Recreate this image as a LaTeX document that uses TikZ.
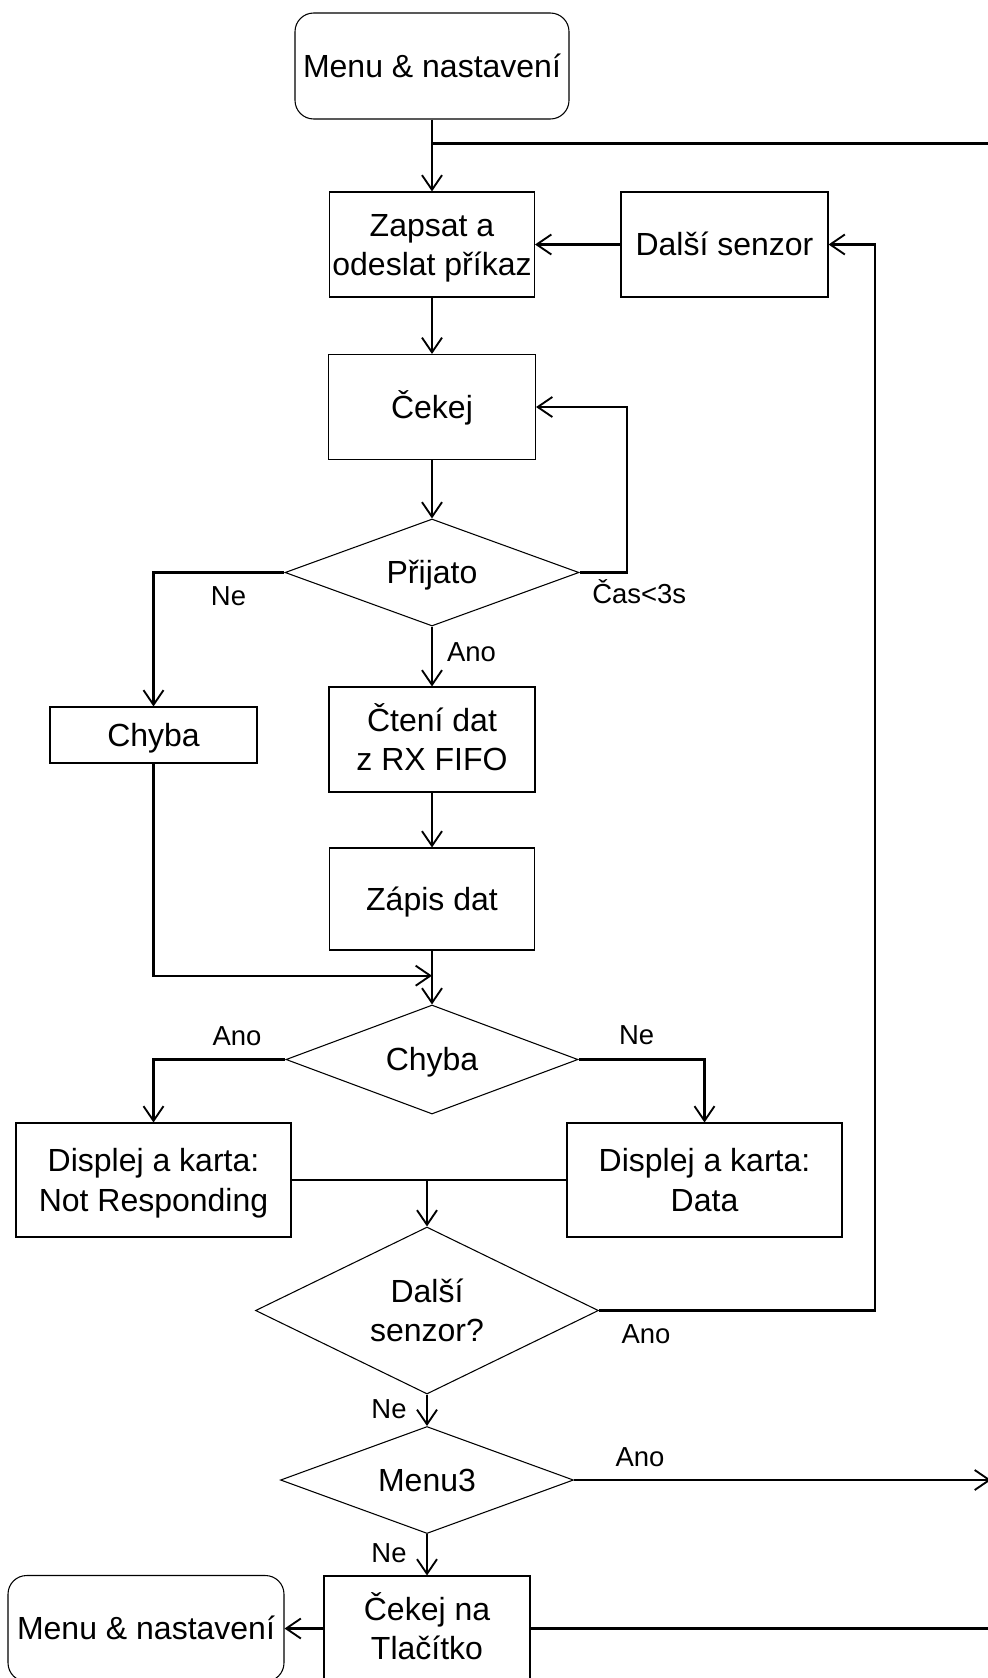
\documentclass[tikz,border=0pt]{standalone}
\usepackage{fontspec}
\setmainfont{Liberation Sans}
\usetikzlibrary{arrows.meta,shapes.geometric}

\newcommand\mainfnt{\fontsize{24}{29.5}\selectfont}
\newcommand\lblfnt{\fontsize{20.6}{24}\selectfont}
% one text line with a fixed ascent/descent, so capitals sit on the node centre
\newcommand\capstrut{\rule[-4.8pt]{0pt}{26.8pt}}
\newcommand\txl[1]{\smash{#1}\capstrut}

\tikzset{
  sz/.style 2 args={minimum width=#1*0.75pt, minimum height=#2*0.75pt},
  box/.style={draw, line width=0.8pt, rectangle, inner sep=0pt, align=center, font=\mainfnt},
  rbox/.style={box, rounded corners=14pt},
  dia/.style={draw, line width=0.8pt, diamond, aspect=2.5, inner sep=0pt, align=center, font=\mainfnt},
  link/.style={line width=1.6pt},
  arr/.style={link, -{Straight Barb[length=11pt,width=15pt,line width=1.4pt]}},
  lbl/.style={font=\lblfnt, inner sep=0pt}
}

\begin{document}
\begin{tikzpicture}[x=0.75pt,y=-0.75pt]
\useasboundingbox (0,0) rectangle (988,1678);
\fill[white] (0,0) rectangle (988,1678);
\clip (0,0) rectangle (988,1678);

% process blocks
\node[rbox, sz={274}{106}] (start) at (432,66) {\txl{Menu \& nastavení}};
\node[box, sz={205}{105}] (write) at (432,244.5) {\txl{Zapsat a}\\\txl{odeslat příkaz}};
\node[box, sz={207}{105}] (next) at (724.5,244.5) {\txl{Další senzor}};
\node[box, sz={207}{105}] (wait) at (432,407) {\txl{Čekej}};
\node[dia, sz={294}{107}] (recv) at (432,572.5) {\txl{Přijato}};
\node[box, sz={207}{56}] (err) at (153.5,735) {\txl{Chyba}};
\node[box, sz={206}{105}] (read) at (432,739.5) {\txl{Čtení dat}\\\txl{z RX FIFO}};
\node[box, sz={205}{102}] (store) at (432,899) {\txl{Zápis dat}};
\node[dia, sz={292}{109}] (iserr) at (432,1059.5) {\txl{Chyba}};
\node[box, sz={275}{114}] (nresp) at (153.5,1180) {\txl{Displej a karta:}\\\txl{Not Responding}};
\node[box, sz={275}{114}] (data) at (704.5,1180) {\txl{Displej a karta:}\\\txl{Data}};
\node[dia, sz={343}{167}] (more) at (427,1310.5) {\txl{Další}\\\txl{senzor?}};
\node[dia, sz={293}{107}] (menu3) at (427,1480) {\txl{Menu3}};
\node[box, sz={206}{105}] (btn) at (427,1628.5) {\txl{Čekej na}\\\txl{Tlačítko}};
\node[rbox, sz={276}{106}] (back) at (146,1628.5) {\txl{Menu \& nastavení}};

% auxiliary bends
\coordinate (topjoin) at (432,143.5);
\coordinate (topedge) at (988,143.5);
\coordinate (loop) at (627,407);
\coordinate (join) at (432,975.7);
\coordinate (merge) at (427,1180);
\coordinate (ret) at (875,1310.5);
\coordinate (edge3) at (991,1480);
\coordinate (edgeb) at (988,1628.5);

% connectors
\draw[arr] (start) -- (write);
\draw[link] (topjoin) -- (topedge);
\draw[arr] (next) -- (write);
\draw[arr] (write) -- (wait);
\draw[arr] (wait) -- (recv);
\draw[arr] (recv.east) -| (loop) -- (wait.east);
\draw[arr] (recv.west) -| (err.north);
\draw[arr] (recv.south) -- (read.north);
\draw[arr] (read) -- (store);
\draw[arr] (store) -- (iserr);
\draw[arr] (err.south) |- (join);
\draw[arr] (iserr.west) -| (nresp.north);
\draw[arr] (iserr.east) -| (data.north);
\draw[link] (nresp.east) -- (data.west);
\draw[arr] (merge) -- (more.north);
\draw[arr] (more.east) -- (ret) |- (next.east);
\draw[arr] (more.south) -- (menu3.north);
\draw[arr] (menu3.east) -- (edge3);
\draw[arr] (menu3.south) -- (btn.north);
\draw[arr] (btn.west) -- (back.east);
\draw[link] (btn.east) -- (edgeb);

% branch labels
\node[lbl] (l1) at (228.5,596) {Ne};
\node[lbl, anchor=west] (l2) at (592,592) {Čas<3s};
\node[lbl] (l3) at (471.5,652) {Ano};
\node[lbl] (l4) at (237,1036) {Ano};
\node[lbl] (l5) at (636.7,1035) {Ne};
\node[lbl] (l6) at (646,1334) {Ano};
\node[lbl] (l7) at (389,1409) {Ne};
\node[lbl] (l8) at (640,1457) {Ano};
\node[lbl] (l9) at (389,1553) {Ne};
\end{tikzpicture}
\end{document}
